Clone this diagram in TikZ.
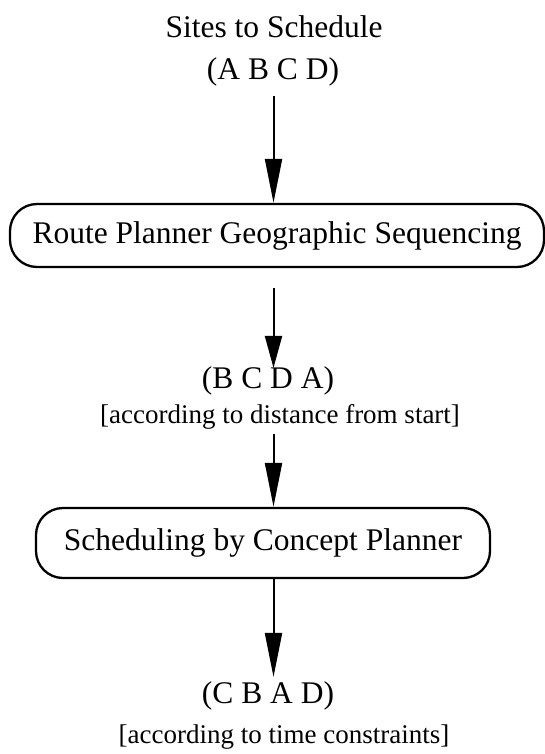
\documentclass[tikz,border=0pt]{standalone}
\usepackage{fontspec}
\setmainfont{Liberation Serif}
\usetikzlibrary{arrows.meta}

\begin{document}
\begin{tikzpicture}[x=1pt,y=1pt,
    every node/.style={font=\fontsize{31.5}{36}\selectfont},
    label/.style={inner sep=0pt, anchor=base},
    note/.style={label, font=\fontsize{27}{32}\selectfont},
    planner/.style={draw, line width=2.3pt, rounded corners=27pt, inner sep=0pt},
    flow/.style={line width=2pt, -{Triangle[length=44pt, width=17pt]}},
    shortflow/.style={line width=2pt, -{Triangle[length=32pt, width=17pt]}}]

  % page frame
  \useasboundingbox (0,0) rectangle (545,-754);

  % common vertical axis of the connectors
  \coordinate (spine) at (273.5,0);

  % texts and process boxes
  \node[label] (title) at (274,-38) {Sites to Schedule};
  \node[label] (abcd)  at (273,-80) {(A B C D)};

  \node[planner, minimum width=534pt, minimum height=63pt] (route) at (277,-235.5)
    {Route Planner Geographic Sequencing};

  \node[label] (bcda) at (268,-388) {(B C D A)};
  \node[note]  (dist) at (280,-423) {[according to distance from start]};

  \node[planner, minimum width=454pt, minimum height=70pt] (sched) at (263,-543)
    {Scheduling by Concept Planner};

  \node[label] (cbad) at (268,-703) {(C B A D)};
  \node[note]  (time) at (284,-743) {[according to time constraints]};

  % connectors
  \draw[flow, shorten <=9pt]  (abcd.south -| spine) -- (route.north -| spine);
  \draw[shortflow, shorten <=20pt, shorten >=-2pt] (route.south -| spine) -- (bcda.north -| spine);
  \draw[flow, shorten <=5pt]  (dist.south -| spine) -- (sched.north -| spine);
  \draw[flow, shorten >=4pt]  (sched.south -| spine) -- (cbad.north -| spine);
\end{tikzpicture}
\end{document}
